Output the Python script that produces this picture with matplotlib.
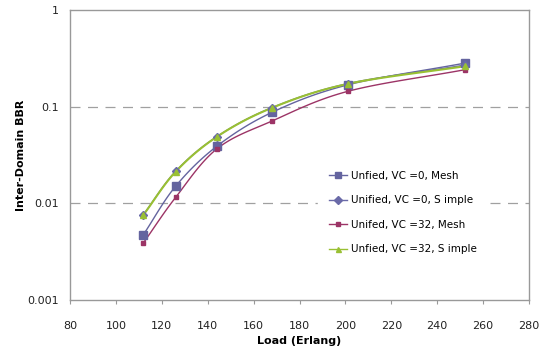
import numpy as np
import matplotlib
matplotlib.use("Agg")
import matplotlib.pyplot as plt

load = [112, 126, 144, 168, 201, 252]
mesh_vc0 = [0.00475, 0.0150, 0.0390, 0.0873, 0.168, 0.282]
simple_vc0 = [0.00764, 0.0214, 0.0490, 0.0977, 0.173, 0.269]
mesh_vc32 = [0.0039, 0.0115, 0.0366, 0.0710, 0.144, 0.241]
simple_vc32 = [0.00760, 0.0212, 0.0488, 0.0972, 0.172, 0.262]

labels = ["Unfied, VC =0, Mesh", "Unified, VC =0, S imple",
          "Unifed, VC =32, Mesh", "Unfied, VC =32, S imple"]
x_ticks = [80, 100, 120, 140, 160, 180, 200, 220, 240, 260, 280]
y_ticks = [0.001, 0.01, 0.1, 1]
y_tick_labels = ["0.001", "0.01", "0.1", "1"]


def smooth(xs, ys, n=20):
    xs = np.asarray(xs, float)
    ly = np.log10(np.asarray(ys, float))
    P = np.column_stack([xs, ly])
    P = np.vstack([2 * P[0] - P[1], P, 2 * P[-1] - P[-2]])
    out = []
    for i in range(1, len(P) - 2):
        p0, p1, p2, p3 = P[i - 1], P[i], P[i + 1], P[i + 2]
        t = np.linspace(0, 1, n)[:, None]
        seg = 0.5 * ((2 * p1) + (-p0 + p2) * t + (2 * p0 - 5 * p1 + 4 * p2 - p3) * t**2
                     + (-p0 + 3 * p1 - 3 * p2 + p3) * t**3)
        out.append(seg)
    out = np.vstack(out)
    return out[:, 0], 10 ** out[:, 1]


fig = plt.figure(figsize=(5.49, 3.6), dpi=100)
ax = fig.add_axes([70 / 549, 60 / 360, 459 / 549, 290 / 360])

series = [
    (mesh_vc0, "#64649f", "s", 5.5, 1.0),
    (simple_vc0, "#6a6aa8", "D", 4.5, 1.0),
    (mesh_vc32, "#9c3466", "s", 3.5, 1.0),
    (simple_vc32, "#99c033", "^", 4.5, 1.5),
]
for (ys, c, m, ms, lw), lab in zip(series, labels):
    sx, sy = smooth(load, ys)
    ax.plot(sx, sy, color=c, lw=lw, zorder=3)
    ax.plot(load, ys, linestyle="none", marker=m, color=c, ms=ms, zorder=4)
    ax.plot([], [], color=c, lw=1.0, marker=m, ms=ms * 0.8, label=lab)

ax.set_yscale("log")
ax.set_xlim(80, 280)
ax.set_ylim(0.001, 1)
ax.set_xticks(x_ticks)
ax.set_xticklabels([str(v) for v in x_ticks], fontsize=8, color="#222222")
ax.set_yticks(y_ticks)
ax.set_yticklabels(y_tick_labels, fontsize=8, color="#222222")
ax.yaxis.set_minor_locator(matplotlib.ticker.NullLocator())
ax.tick_params(axis="y", length=0, pad=8)
ax.tick_params(axis="x", length=3, color="#999999", direction="out", pad=12)
for v in [0.01, 0.1]:
    ax.axhline(v, color="#a0a0a0", lw=0.9, ls=(0, (8, 6)), zorder=1)
for s in ax.spines.values():
    s.set_color("#999999")
    s.set_linewidth(1.0)

ax.set_xlabel("Load (Erlang)", fontsize=8, fontweight="bold", labelpad=4)
ax.set_ylabel("Inter-Domain BBR", fontsize=8, fontweight="bold", labelpad=1)

leg = ax.legend(loc="upper left", bbox_to_anchor=(243 / 459, 145 / 290), frameon=True,
                fontsize=7.5, handlelength=1.8, labelspacing=1.4, borderpad=1.0,
                handletextpad=0.3)
leg.get_frame().set_edgecolor("white")
leg.get_frame().set_facecolor("white")
leg.get_frame().set_alpha(1)

fig.savefig("out.png", dpi=100)
